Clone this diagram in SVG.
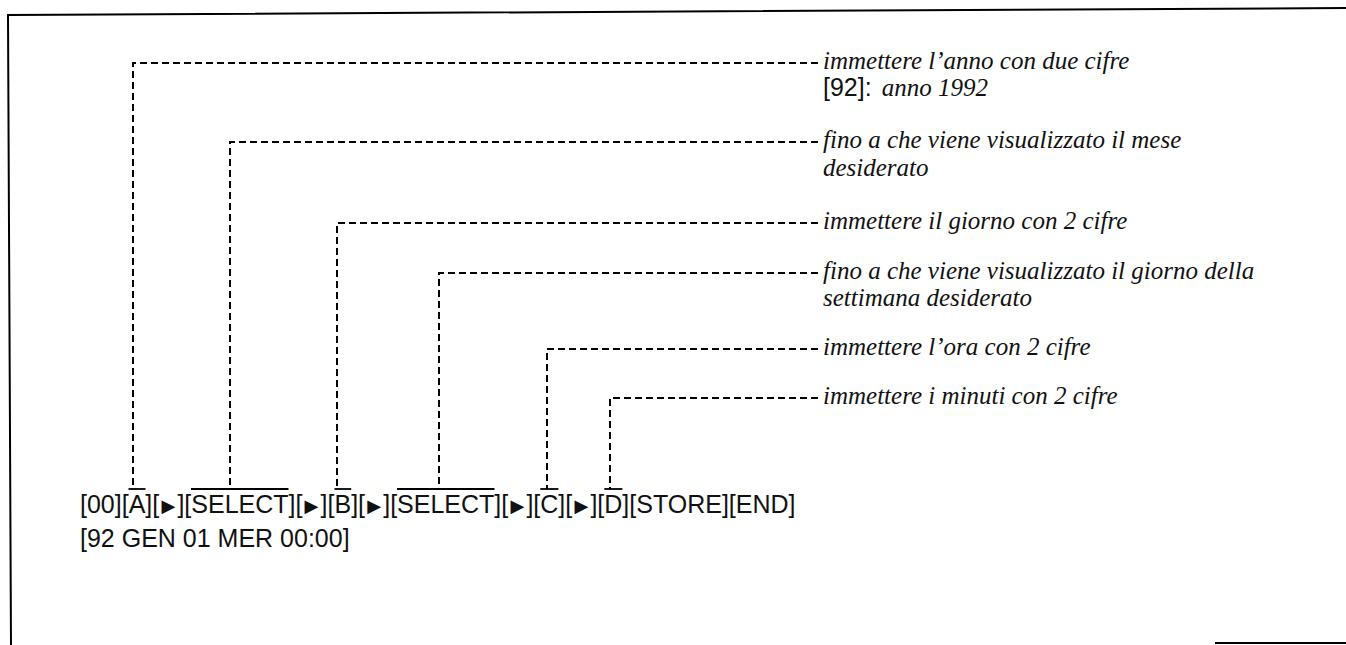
<svg xmlns="http://www.w3.org/2000/svg" width="1346" height="645" viewBox="0 0 1346 645">
<style>
.frame{fill:none;stroke:#000;stroke-width:2}
.lead{fill:none;stroke:#000;stroke-width:2;stroke-dasharray:7 4}
.bar{stroke:#000;stroke-width:1.8}
.lbl{font-family:"Liberation Serif","Times New Roman",serif;font-style:italic;font-size:25px;fill:#111}
.key{font-family:"Liberation Sans",Arial,sans-serif;font-size:25px;fill:#111}
.arw{font-family:"DejaVu Sans",sans-serif;font-size:18px}
</style>
<rect width="1346" height="645" fill="#fff"/>
<g id="frame">
<polyline class="frame" points="11,645 8,15 1346,8"/>
<line class="frame" x1="1215" y1="643" x2="1346" y2="643"/>
</g>
<g id="connectors">
<polyline class="lead" points="818,63 133,63 133,489"/>
<polyline class="lead" points="818,142 230,142 230,489"/>
<polyline class="lead" points="818,223 337,223 337,489"/>
<polyline class="lead" points="818,273 439,273 439,489"/>
<polyline class="lead" points="818,349 547,349 547,489"/>
<polyline class="lead" points="818,398 610,398 610,489"/>
</g>
<g id="label-anno">
<text class="lbl" x="823" y="69">immettere l’anno con due cifre</text>
<text x="823" y="96"><tspan class="key">[92]:</tspan><tspan class="lbl" dx="10">anno 1992</tspan></text>
</g>
<g id="label-mese">
<text class="lbl" x="823" y="148">fino a che viene visualizzato il mese</text>
<text class="lbl" x="823" y="176">desiderato</text>
</g>
<g id="label-giorno">
<text class="lbl" x="823" y="229">immettere il giorno con 2 cifre</text>
</g>
<g id="label-settimana">
<text class="lbl" x="823" y="279">fino a che viene visualizzato il giorno della</text>
<text class="lbl" x="823" y="306">settimana desiderato</text>
</g>
<g id="label-ora">
<text class="lbl" x="823" y="355">immettere l’ora con 2 cifre</text>
</g>
<g id="label-minuti">
<text class="lbl" x="823" y="404">immettere i minuti con 2 cifre</text>
</g>
<g id="key-sequence">
<text class="key" y="513"><tspan x="80">[00][A][</tspan><tspan class="arw" x="161.4" y="512">▶</tspan><tspan x="177.4" y="513">][SELECT][</tspan><tspan class="arw" x="304.6" y="512">▶</tspan><tspan x="320.6" y="513">][B][</tspan><tspan class="arw" x="367.2" y="512">▶</tspan><tspan x="383.2" y="513">][SELECT][</tspan><tspan class="arw" x="510.4" y="512">▶</tspan><tspan x="526.4" y="513">][C][</tspan><tspan class="arw" x="574.4" y="512">▶</tspan><tspan x="590.4" y="513">][D][STORE][END]</tspan></text>
<line class="bar" x1="128.5" y1="489" x2="145.5" y2="489"/>
<line class="bar" x1="191" y1="489" x2="288.5" y2="489"/>
<line class="bar" x1="334.5" y1="489" x2="351.2" y2="489"/>
<line class="bar" x1="397" y1="489" x2="494.5" y2="489"/>
<line class="bar" x1="540.3" y1="489" x2="558.4" y2="489"/>
<line class="bar" x1="604.3" y1="489" x2="622.4" y2="489"/>
<text class="key" x="80" y="547">[92 GEN 01 MER 00:00]</text>
</g>
</svg>
